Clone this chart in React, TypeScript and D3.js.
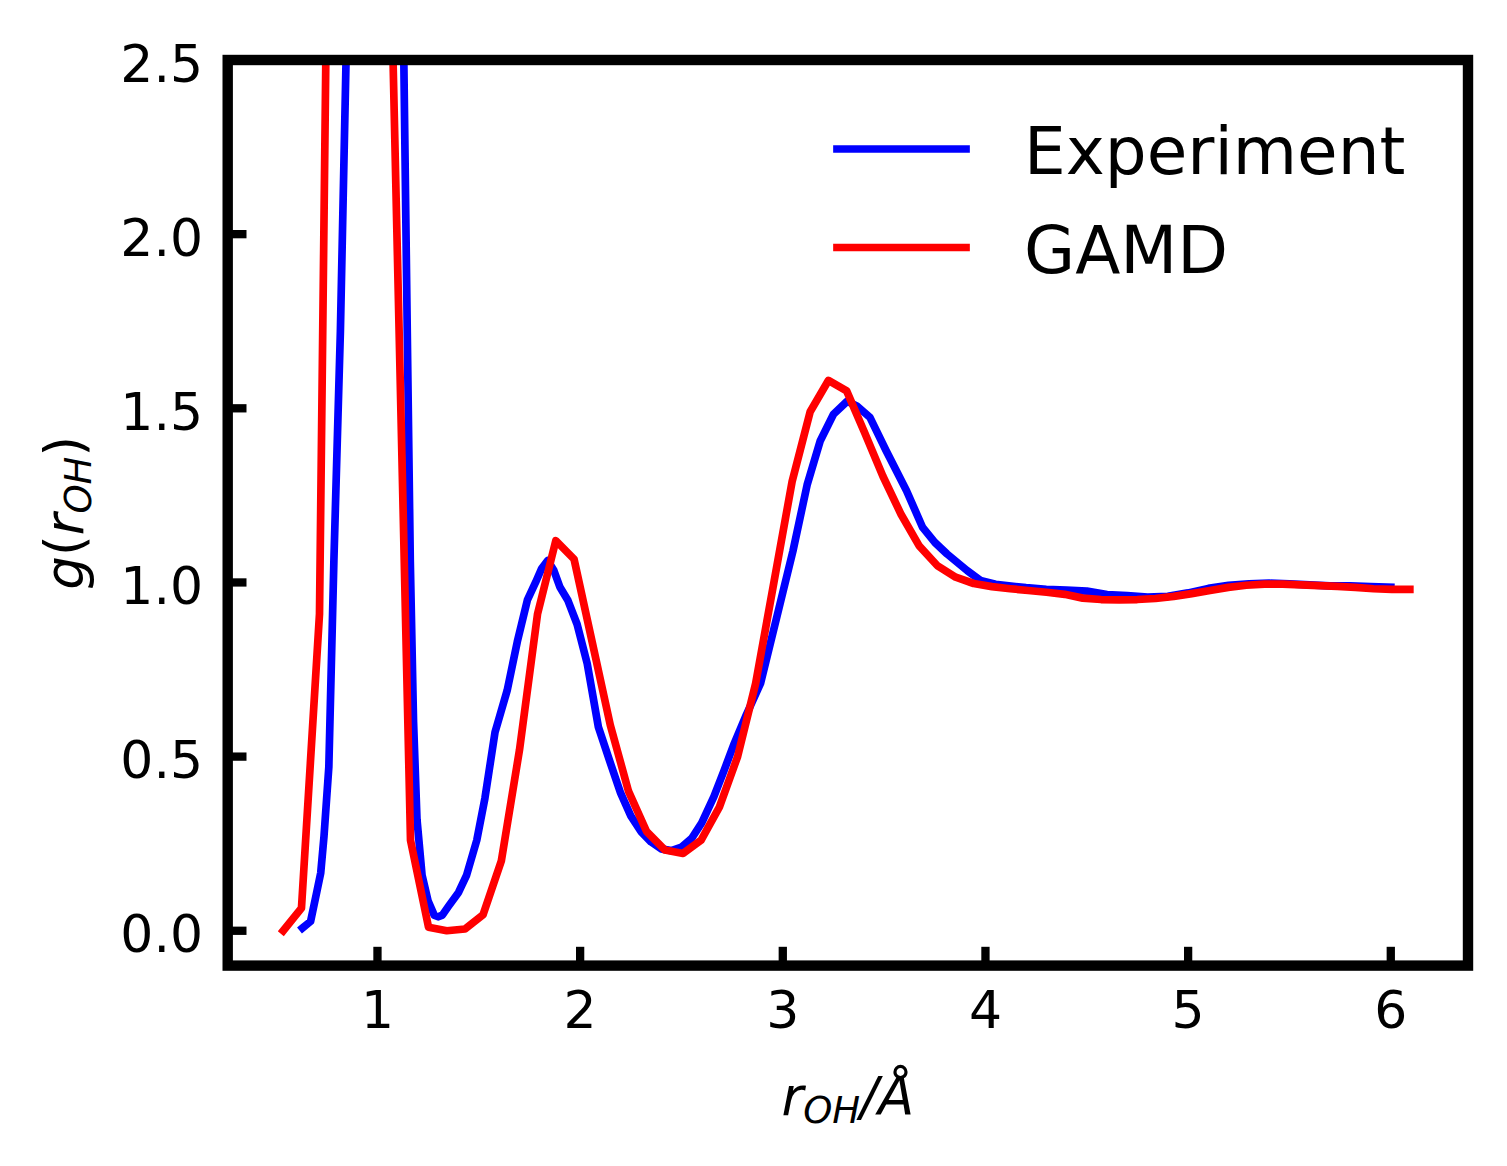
import React from "react";
import * as d3 from "d3";

// ---------- data ----------
const expR = [0.63,0.67,0.70,0.72,0.736,0.76,0.785,0.817,0.845,0.87,0.90,0.95,1.00,1.05,1.10,1.13,1.147,1.162,1.178,1.195,1.22,1.25,1.28,1.30,1.32,1.35,1.40,1.44,1.49,1.53,1.58,1.64,1.69,1.74,1.78,1.81,1.84,1.87,1.90,1.94,1.985,2.035,2.09,2.15,2.20,2.25,2.30,2.35,2.40,2.45,2.50,2.55,2.60,2.66,2.71,2.76,2.82,2.89,2.97,3.05,3.12,3.185,3.25,3.317,3.365,3.43,3.51,3.61,3.69,3.75,3.81,3.91,3.975,4.05,4.2,4.3,4.4,4.5,4.6,4.7,4.8,4.9,5.0,5.1,5.2,5.3,5.4,5.5,5.6,5.7,5.8,5.9,6.0];
const expG = [0.008,0.027,0.11,0.166,0.27,0.47,1.063,1.72,2.5,3.3,4.6,6.2,6.8,6.0,3.8,2.5,1.72,1.06,0.6,0.32,0.16,0.085,0.045,0.04,0.045,0.07,0.11,0.16,0.26,0.38,0.57,0.69,0.83,0.95,1.0,1.04,1.063,1.035,0.987,0.948,0.88,0.767,0.585,0.48,0.395,0.33,0.285,0.255,0.235,0.23,0.24,0.265,0.31,0.385,0.46,0.537,0.62,0.71,0.90,1.09,1.28,1.407,1.483,1.52,1.507,1.474,1.378,1.264,1.158,1.115,1.082,1.034,1.006,0.995,0.985,0.98,0.978,0.975,0.965,0.962,0.958,0.96,0.97,0.983,0.992,0.996,0.998,0.996,0.993,0.99,0.99,0.988,0.986];

const gamdR = [0.535,0.625,0.714,0.804,0.894,0.983,1.073,1.163,1.252,1.342,1.432,1.521,1.611,1.701,1.790,1.880,1.970,2.059,2.149,2.239,2.328,2.418,2.508,2.597,2.687,2.777,2.866,2.956,3.046,3.135,3.225,3.315,3.404,3.494,3.584,3.673,3.763,3.853,3.942,4.032,4.122,4.211,4.301,4.391,4.480,4.570,4.660,4.749,4.839,4.929,5.018,5.108,5.198,5.287,5.377,5.467,5.556,5.646,5.736,5.825,5.915,6.005,6.094];
const gamdG = [0.0,0.065,0.91,5.5,9.0,6.5,2.6,0.26,0.01,0.0,0.005,0.046,0.2,0.52,0.91,1.12,1.067,0.83,0.59,0.40,0.285,0.232,0.222,0.26,0.355,0.50,0.71,1.0,1.29,1.49,1.58,1.55,1.43,1.305,1.195,1.105,1.048,1.015,0.997,0.988,0.982,0.977,0.972,0.966,0.955,0.951,0.95,0.951,0.954,0.96,0.968,0.977,0.986,0.992,0.995,0.995,0.993,0.991,0.989,0.986,0.982,0.98,0.98];

const xTicks = [1, 2, 3, 4, 5, 6];
const yTicks = [0, 0.5, 1.0, 1.5, 2.0, 2.5];
const seriesNames = ["Experiment", "GAMD"];
const seriesColors = ["#0000ff", "#ff0000"];

// ---------- layout ----------
const W = 1507;
const H = 1166;
const L = 227.7, R = 1468, T = 60, B = 965.6;
const FONT = "'DejaVu Sans', sans-serif";

export default function App() {
  const x = d3.scaleLinear().domain([0.261, 6.381]).range([L, R]);
  const y = d3.scaleLinear().domain([-0.1, 2.5]).range([B, T]);
  const line = d3
    .line<[number, number]>()
    .x((d) => x(d[0]))
    .y((d) => y(d[1]));

  const expPts = expR.map((r, i) => [r, expG[i]] as [number, number]);
  const gamdPts = gamdR.map((r, i) => [r, gamdG[i]] as [number, number]);
  const series = [expPts, gamdPts];

  const lw = 7.7;
  const spineW = 10.4;
  const tickLen = 18.8;
  const tickW = 8.3;

  return (
    <svg
      width={W}
      height={H}
      viewBox={`0 0 ${W} ${H}`}
      style={{ position: "absolute", left: 0, top: 0, background: "#fff" }}
      fontFamily={FONT}
    >
      <rect x={0} y={0} width={W} height={H} fill="#fff" />
      <defs>
        <clipPath id="plotclip">
          <rect x={L} y={T} width={R - L} height={B - T} />
        </clipPath>
      </defs>

      <g clipPath="url(#plotclip)">
        {series.map((pts, i) => (
          <path
            key={i}
            d={line(pts) || ""}
            fill="none"
            stroke={seriesColors[i]}
            strokeWidth={lw}
            strokeLinejoin="round"
            strokeLinecap="square"
          />
        ))}
      </g>

      {/* ticks (inward) */}
      {xTicks.map((t) => (
        <g key={"xt" + t}>
          <line x1={x(t)} x2={x(t)} y1={B} y2={B - tickLen} stroke="#000" strokeWidth={tickW} />
          <text x={x(t)} y={1028} textAnchor="middle" fontSize={52} fill="#000">
            {d3.format("d")(t)}
          </text>
        </g>
      ))}
      {yTicks.map((t) => (
        <g key={"yt" + t}>
          <line x1={L} x2={L + tickLen} y1={y(t)} y2={y(t)} stroke="#000" strokeWidth={tickW} />
          <text x={203} y={y(t) + 21.5} textAnchor="end" fontSize={52} fill="#000">
            {d3.format(".1f")(t)}
          </text>
        </g>
      ))}

      {/* spines */}
      <rect x={L} y={T} width={R - L} height={B - T} fill="none" stroke="#000" strokeWidth={spineW} strokeLinejoin="miter" />

      {/* axis labels */}
      <text x={(L + R) / 2} y={1115} textAnchor="middle" fontSize={53} fill="#000">
        <tspan fontStyle="italic">r</tspan>
        <tspan fontStyle="italic" fontSize={37} dy={7.5}>OH</tspan>
        <tspan fontStyle="italic" dy={-7.5}>/Å</tspan>
      </text>
      <text transform={`translate(83,${(T + B) / 2}) rotate(-90)`} textAnchor="middle" fontSize={53} fill="#000">
        <tspan fontStyle="italic">g</tspan>
        <tspan>(</tspan>
        <tspan fontStyle="italic">r</tspan>
        <tspan fontStyle="italic" fontSize={37} dy={7.5}>OH</tspan>
        <tspan dy={-7.5}>)</tspan>
      </text>

      {/* legend */}
      {seriesNames.map((name, i) => (
        <g key={name}>
          <line x1={837} x2={966} y1={149 + i * 98.5} y2={149 + i * 98.5} stroke={seriesColors[i]} strokeWidth={lw} strokeLinecap="square" />
          <text x={1024} y={174 + i * 98.5} fontSize={66} fill="#000">
            {name}
          </text>
        </g>
      ))}
    </svg>
  );
}
